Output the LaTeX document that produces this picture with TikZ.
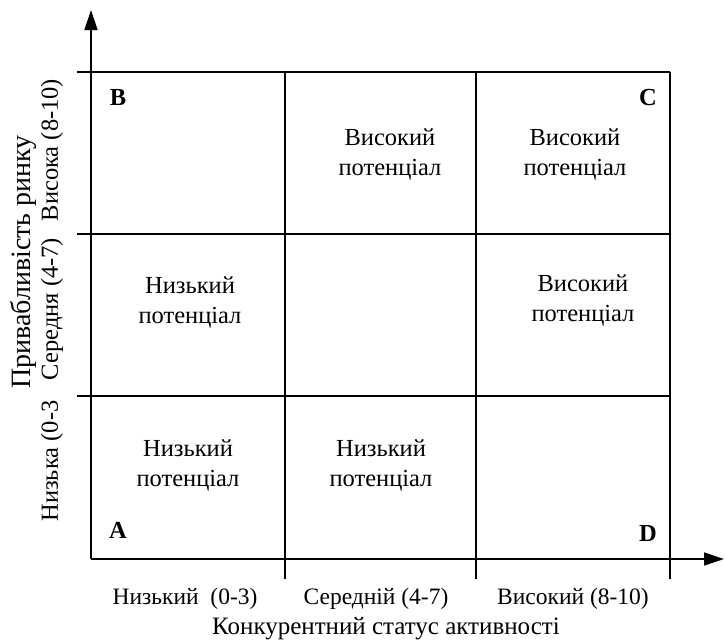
\documentclass[tikz,border=0pt]{standalone}
\usepackage{fontspec}
\setmainfont{Liberation Serif}
\usetikzlibrary{arrows.meta}
\begin{document}
\begin{tikzpicture}[x=1pt,y=-1pt,
  grid/.style={line width=1.4pt},
  axis/.style={line width=1.4pt,-{Triangle[length=20pt,width=13pt]}},
  txt/.style={font=\fontsize{24.5}{30}\selectfont,align=center,inner sep=0pt},
  rng/.style={font=\fontsize{23.5}{28}\selectfont,inner sep=0pt},
  vrng/.style={font=\fontsize{24.5}{28}\selectfont,inner sep=0pt,rotate=90},
  ttl/.style={font=\fontsize{25}{30}\selectfont,inner sep=0pt},
  vttl/.style={font=\fontsize{28}{32}\selectfont,inner sep=0pt,rotate=90},
  corner/.style={font=\fontsize{24.5}{28}\selectfont\bfseries,inner sep=0pt}]
\useasboundingbox (0,0) rectangle (725,643);
% grid
\draw[grid] (77,72) -- (670,72);
\draw[grid] (77,234) -- (670,234);
\draw[grid] (77,396) -- (670,396);
\draw[grid] (285,72) -- (285,579);
\draw[grid] (476,72) -- (476,579);
\draw[grid] (670,72) -- (670,579);
% axes
\coordinate (o) at (91,559);
\coordinate (ytip) at (91,10);
\coordinate (xtip) at (724,559);
\draw[axis] (o) -- (ytip);
\draw[axis] (o) -- (xtip);
% corner letters
\node[corner] (B) at (118,98) {B};
\node[corner] (C) at (648,98) {C};
\node[corner] (A) at (118,530) {A};
\node[corner] (D) at (648,533) {D};
% cell texts
\node[txt] (c12) at (390,154) {Високий\\потенціал};
\node[txt] (c13) at (575,154) {Високий\\потенціал};
\node[txt] (c21) at (190,302) {Низький\\потенціал};
\node[txt] (c23) at (583,300) {Високий\\потенціал};
\node[txt] (c31) at (188,465) {Низький\\потенціал};
\node[txt] (c32) at (381,465) {Низький\\потенціал};
% x labels
\node[rng] (x1) at (185,599) {Низький\ \ (0-3)};
\node[rng] (x2) at (376,599) {Середній (4-7)};
\node[rng] (x3) at (573,599) {Високий (8-10)};
\node[ttl] (xl) at (386,629) {Конкурентний статус активності};
% y labels
\node[vttl] (yl) at (23,262) {Привабливість ринку};
\node[vrng] (y1) at (52,150) {Висока (8-10)};
\node[vrng] (y2) at (52,309) {Середня (4-7)};
\node[vrng] (y3) at (52,461) {Низька (0-3};
\end{tikzpicture}
\end{document}
